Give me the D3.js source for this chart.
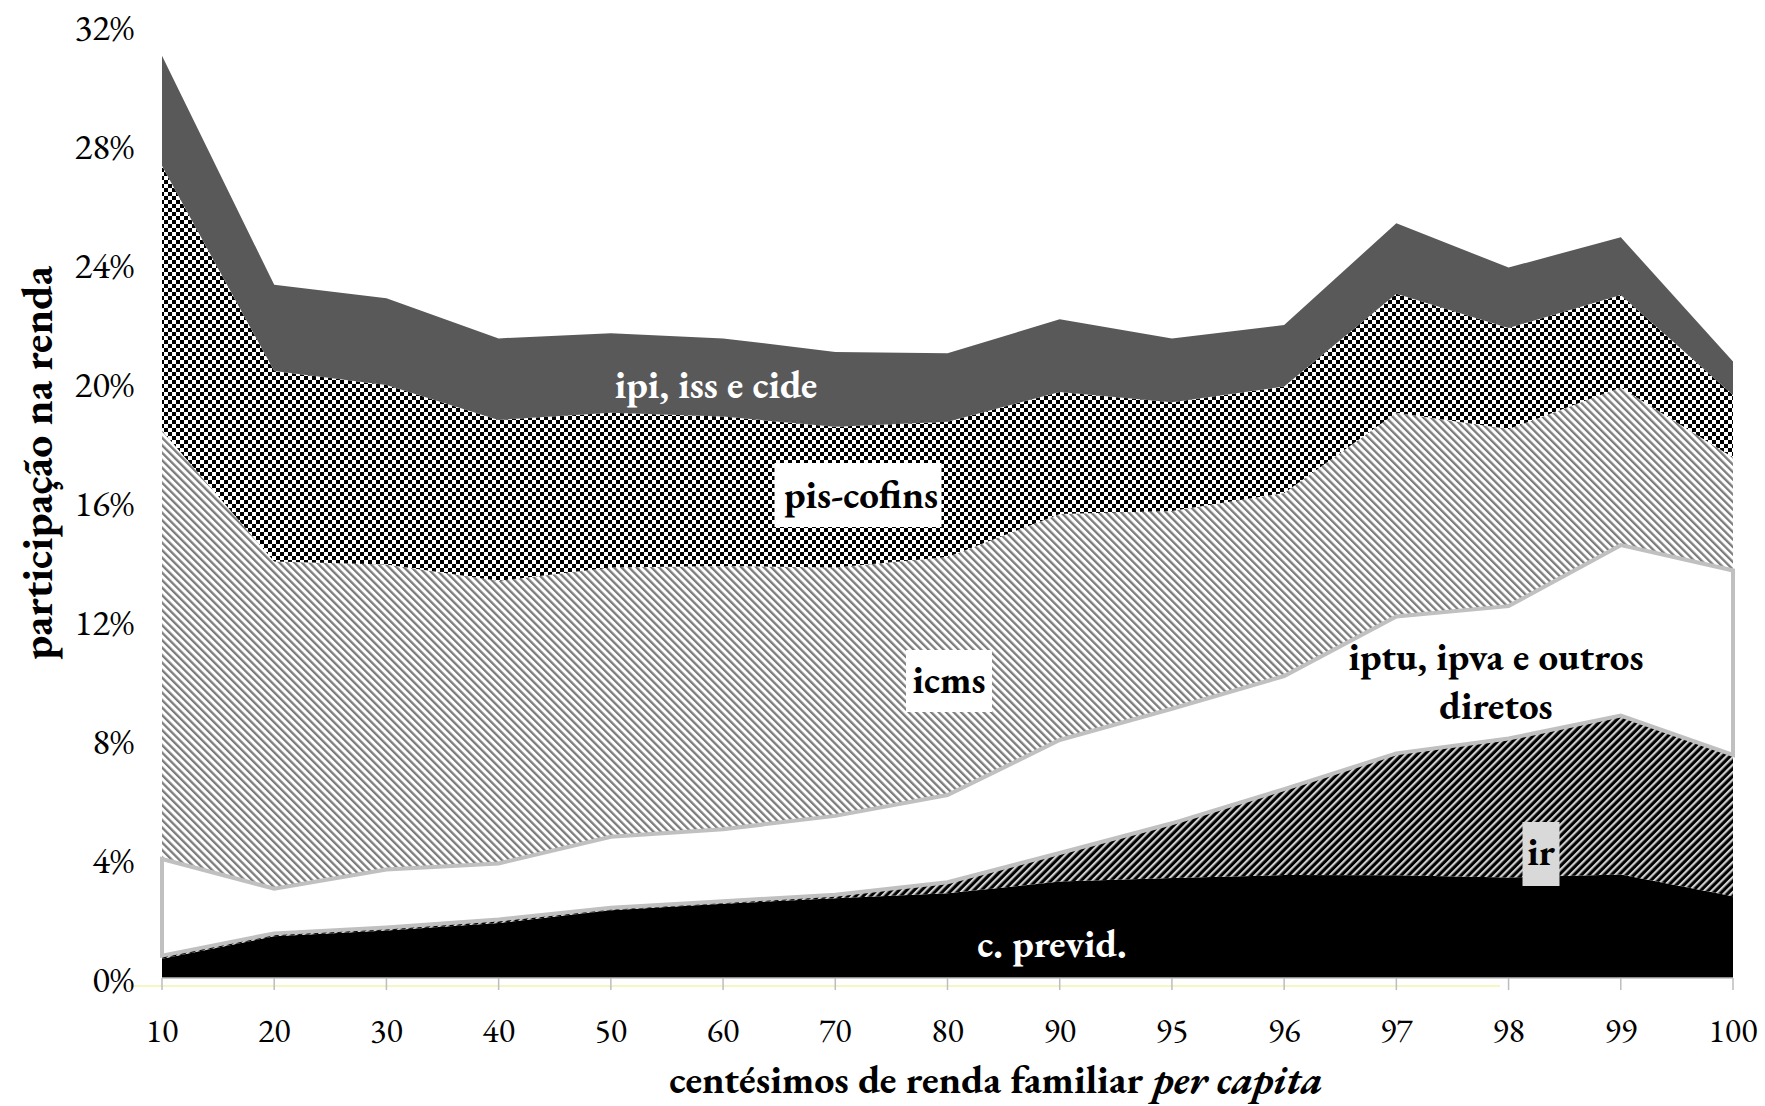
<!DOCTYPE html>
<html><head><meta charset="utf-8">
<script src="https://cdn.jsdelivr.net/npm/d3@7"></script>
<style>
html,body{margin:0;padding:0;background:#fff;}
svg{display:block;}
text{font-family:"EB Garamond",Garamond,"Liberation Serif","DejaVu Serif",serif;}
</style></head>
<body><svg id="chart" width="1765" height="1106"></svg>
<script>
// ---- data (percent of income) ----
const categories = ["10","20","30","40","50","60","70","80","90","95","96","97","98","99","100"];
const cPrevid   = [0.65,1.40,1.60,1.85,2.28,2.50,2.68,2.85,3.24,3.36,3.46,3.45,3.38,3.48,2.75];
const irVals    = [0.10,0.10,0.10,0.12,0.08,0.08,0.12,0.37,0.96,1.84,2.89,4.10,4.67,5.34,4.75];
const iptuVals  = [3.25,1.50,1.95,1.88,2.39,2.42,2.65,2.93,3.80,3.85,3.80,4.60,4.45,5.73,6.20];
const icmsVals  = [14.40,11.00,10.25,9.50,9.05,8.85,8.35,8.00,7.60,6.65,6.15,6.85,5.95,5.30,3.80];
const pisCofins = [8.90,6.40,6.03,5.41,5.20,5.02,4.73,4.55,4.10,3.65,3.58,4.00,3.40,3.11,2.10];
const ipiVals   = [3.70,2.90,2.92,2.74,2.67,2.63,2.51,2.30,2.44,2.15,2.07,2.37,2.03,1.94,1.12];
const seriesKeys = ["cprev","ir","iptu","icms","pis","ipi"];
const yTicks = [0,4,8,12,16,20,24,28,32];

const rows = categories.map((c,i)=>({cat:c, cprev:cPrevid[i], ir:irVals[i], iptu:iptuVals[i],
  icms:icmsVals[i], pis:pisCofins[i], ipi:ipiVals[i]}));

const svg = d3.select("#chart");
const x = d3.scalePoint().domain(categories).range([162,1733]);
const y = d3.scaleLinear().domain([0,32]).range([978,26]);

// ---- patterns ----
const defs = svg.append("defs");
const chk = defs.append("pattern").attr("id","checker").attr("patternUnits","userSpaceOnUse")
  .attr("width",8).attr("height",8);
chk.append("rect").attr("width",8).attr("height",8).attr("fill","#fff");
chk.append("rect").attr("width",4).attr("height",4).attr("fill","#000");
chk.append("rect").attr("x",4).attr("y",4).attr("width",4).attr("height",4).attr("fill","#000");

const hl = defs.append("pattern").attr("id","hatchLight").attr("patternUnits","userSpaceOnUse")
  .attr("width",5.3).attr("height",5.3).attr("patternTransform","rotate(-45)");
hl.append("rect").attr("width",5.3).attr("height",5.3).attr("fill","#fff");
hl.append("rect").attr("width",2.3).attr("height",5.3).attr("fill","#7c7c7c");

const hd = defs.append("pattern").attr("id","hatchDark").attr("patternUnits","userSpaceOnUse")
  .attr("width",5.3).attr("height",5.3).attr("patternTransform","rotate(45)");
hd.append("rect").attr("width",5.3).attr("height",5.3).attr("fill","#000");
hd.append("rect").attr("width",2.2).attr("height",5.3).attr("fill","#d0d0d0");

const fills = {cprev:"#000", ir:"url(#hatchDark)", iptu:"#fff", icms:"url(#hatchLight)", pis:"url(#checker)", ipi:"#595959"};

const stack = d3.stack().keys(seriesKeys);
const layers = stack(rows);
const area = d3.area().x(d=>x(d.data.cat)).y0(d=>y(d[0])).y1(d=>y(d[1]));

svg.append("g").selectAll("path").data(layers).join("path")
  .attr("d",area).attr("fill",d=>fills[d.key]).attr("stroke","none");

// outline of the iptu layer
const iptuLayer = layers.find(l=>l.key==="iptu");
svg.append("path").attr("d",area(iptuLayer)).attr("fill","none")
  .attr("stroke","#c0c0c0").attr("stroke-width",4).attr("stroke-linejoin","miter");

// ---- axes ----
svg.append("line").attr("x1",130).attr("x2",1500).attr("y1",986).attr("y2",986)
  .attr("stroke","#eef39a").attr("stroke-width",1.5).attr("opacity",0.8);
svg.append("line").attr("x1",x(categories[0])).attr("x2",x(categories[categories.length-1]))
  .attr("y1",y(0)).attr("y2",y(0)).attr("stroke","#bdbdbd").attr("stroke-width",1.5);
svg.append("g").selectAll("line").data(categories).join("line")
  .attr("x1",d=>x(d)).attr("x2",d=>x(d)).attr("y1",y(0)).attr("y2",y(0)+12)
  .attr("stroke","#bdbdbd").attr("stroke-width",1.5);
svg.append("g").selectAll("text").data(categories).join("text")
  .attr("x",d=>x(d)).attr("y",1042).attr("text-anchor","middle")
  .attr("font-size",34).attr("fill","#000").text(d=>d);
svg.append("g").selectAll("text").data(yTicks).join("text")
  .attr("x",134).attr("y",d=>y(d)+2).attr("dy","0.33em").attr("text-anchor","end")
  .attr("font-size",37).attr("fill","#000").text(d=>d+"%");

// axis titles
const xt = svg.append("text").attr("x",996).attr("y",1093).attr("text-anchor","middle")
  .attr("font-size",40).attr("font-weight","bold").attr("fill","#000");
xt.append("tspan").text("centésimos de renda familiar ");
xt.append("tspan").attr("font-style","italic").text("per capita");
svg.append("text").attr("transform","translate(39,463) rotate(-90)").attr("dy","0.3em").attr("text-anchor","middle")
  .attr("font-size",44).attr("font-weight","bold").attr("fill","#000").text("participação na renda");

// ---- data labels ----
function boxLabel(cx,cy,w,h,bg){
  svg.append("rect").attr("x",cx-w/2).attr("y",cy-h/2).attr("width",w).attr("height",h).attr("fill",bg);
}
boxLabel(858,495,167,64,"#fff");
boxLabel(949,681,86,62,"#fff");
boxLabel(1541,854,37,64,"#d9d9d9");
const lab = (tx,cx,cy,col)=>svg.append("text").attr("x",cx).attr("y",cy).attr("dy","0.3em").attr("text-anchor","middle")
  .attr("font-size",39).attr("font-weight","bold").attr("fill",col).text(tx);
lab("ipi, iss e cide",716,386,"#fff");
lab("pis-cofins",861,496,"#000");
lab("icms",949,681,"#000");
lab("iptu, ipva e outros",1496,658,"#000");
lab("diretos",1496,707,"#000");
lab("ir",1541,853,"#000");
lab("c. previd.",1052,945,"#fff");
</script></body></html>
